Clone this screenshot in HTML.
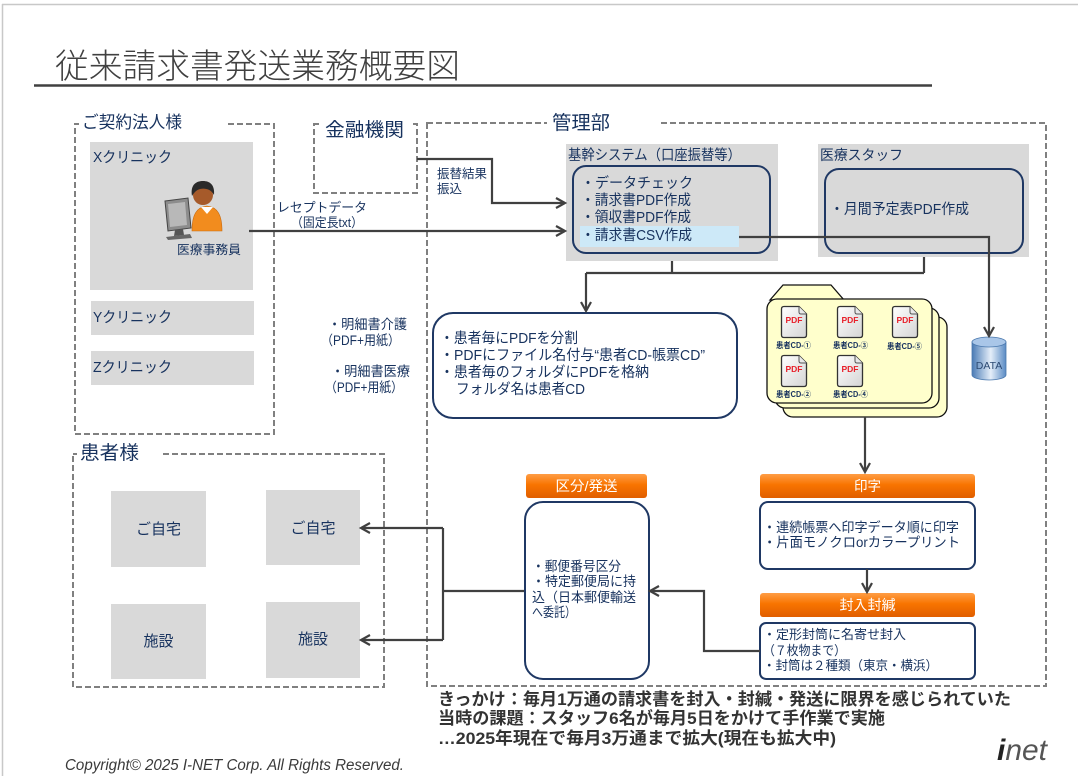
<!DOCTYPE html>
<html><head><meta charset="utf-8"><style>
html,body{margin:0;padding:0;background:#fff;}
svg{display:block;}
text{font-family:"Liberation Sans","Noto Sans CJK JP",sans-serif;}
</style></head><body>
<svg width="1078" height="776" viewBox="0 0 1078 776" xmlns="http://www.w3.org/2000/svg">
<defs>
 <linearGradient id="org" x1="0" y1="0" x2="0" y2="1">
  <stop offset="0" stop-color="#ff9d45"/><stop offset="0.45" stop-color="#f87400"/><stop offset="1" stop-color="#e05e00"/>
 </linearGradient>
 <linearGradient id="cyl" x1="0" y1="0" x2="1" y2="0">
  <stop offset="0" stop-color="#4a7bb5"/><stop offset="0.55" stop-color="#e4eef9"/><stop offset="1" stop-color="#5a8bc4"/>
 </linearGradient>
 <linearGradient id="doc" x1="0" y1="0" x2="1" y2="1">
  <stop offset="0" stop-color="#ffffff"/><stop offset="1" stop-color="#d4d4d4"/>
 </linearGradient>
</defs>

<!-- page border -->
<line x1="2" y1="4.5" x2="1078" y2="4.5" stroke="#c8c8c8" stroke-width="1.5"/>
<line x1="2.5" y1="4" x2="2.5" y2="776" stroke="#c8c8c8" stroke-width="1.5"/>

<!-- title -->
<text x="55" y="78" font-size="34" fill="#404040" font-weight="300" textLength="405" lengthAdjust="spacingAndGlyphs">従来請求書発送業務概要図</text>
<line x1="34" y1="85.5" x2="932" y2="85.5" stroke="#404040" stroke-width="2.5"/>

<!-- dashed group boxes -->
<g fill="none" stroke="#808080" stroke-width="2" stroke-dasharray="6 3">
 <rect x="75" y="124" width="199" height="310"/>
 <rect x="314" y="124" width="103" height="69"/>
 <rect x="427" y="123" width="619" height="563"/>
 <rect x="73" y="454" width="311" height="233"/>
</g>
<!-- label covers -->
<rect x="79" y="114" width="149" height="20" fill="#fff"/>
<rect x="319" y="114" width="91" height="22" fill="#fff"/>
<rect x="547" y="112" width="111" height="22" fill="#fff"/>
<rect x="77" y="442" width="86" height="22" fill="#fff"/>

<g fill="#17325e">
<text x="82" y="128" font-size="17" textLength="100" lengthAdjust="spacingAndGlyphs">ご契約法人様</text>
<text x="325" y="136" font-size="19" textLength="79" lengthAdjust="spacingAndGlyphs">金融機関</text>
<text x="552" y="129" font-size="19" textLength="58" lengthAdjust="spacingAndGlyphs">管理部</text>
<text x="80" y="459" font-size="19" textLength="59" lengthAdjust="spacingAndGlyphs">患者様</text>
</g>

<!-- clinics -->
<rect x="90" y="142" width="163" height="148" fill="#d9d9d9"/>
<rect x="91" y="301" width="163" height="34" fill="#d9d9d9"/>
<rect x="91" y="351" width="163" height="34" fill="#d9d9d9"/>

<!-- person icon -->
<g>
 <path d="M192,231 C192,214 197,207 207,206 C217,207 222,214 222,231 Z" fill="#f28c1e" stroke="#c86a10" stroke-width="0.6"/>
 <path d="M201,207 L207,214 L213,207 Z" fill="#ffffff"/>
 <circle cx="203" cy="195" r="10" fill="#a65a2a"/>
 <path d="M192,196 C190,184 197,181 203,181 C210,181 215,185 214,195 C211,189 205,188 200,189 C196,190 194,193 192,196 Z" fill="#2a2a2a"/>
 <polygon points="165,201 188,198 191,228 168,231" fill="#8c8c8c" stroke="#444" stroke-width="1"/>
 <polygon points="168,204 185,202 187,225 170,227" fill="#b8b8b8"/>
 <polygon points="175,230 183,229 184,235 174,236" fill="#555"/>
 <polygon points="166,237 190,234 192,238 168,240" fill="#666"/>
</g>

<g fill="#17325e">
<text x="93" y="162" font-size="15" textLength="79" lengthAdjust="spacingAndGlyphs">Xクリニック</text>
<text x="177" y="254" font-size="12.5" textLength="64" lengthAdjust="spacingAndGlyphs">医療事務員</text>
<text x="93" y="322" font-size="15" textLength="79" lengthAdjust="spacingAndGlyphs">Yクリニック</text>
<text x="93" y="372" font-size="15" textLength="79" lengthAdjust="spacingAndGlyphs">Zクリニック</text>
<text x="277" y="212" font-size="13" textLength="90" lengthAdjust="spacingAndGlyphs">レセプトデータ</text>
<text x="291" y="227" font-size="13" textLength="72" lengthAdjust="spacingAndGlyphs">（固定長txt）</text>
<text x="437" y="178" font-size="12.5" textLength="50" lengthAdjust="spacingAndGlyphs">振替結果</text>
<text x="437" y="193" font-size="12.5" textLength="25" lengthAdjust="spacingAndGlyphs">振込</text>
<text x="328" y="329" font-size="13.5" textLength="79" lengthAdjust="spacingAndGlyphs">・明細書介護</text>
<text x="321" y="345" font-size="13.5" textLength="79" lengthAdjust="spacingAndGlyphs">（PDF+用紙）</text>
<text x="331" y="376" font-size="13.5" textLength="79" lengthAdjust="spacingAndGlyphs">・明細書医療</text>
<text x="325" y="392" font-size="13.5" textLength="78" lengthAdjust="spacingAndGlyphs">（PDF+用紙）</text>
</g>

<!-- core system -->
<rect x="566" y="144" width="212" height="117" fill="#d9d9d9"/>
<rect x="818" y="144" width="211" height="113" fill="#d9d9d9"/>
<rect x="580" y="226" width="159" height="21" fill="#cde9f8"/>
<rect x="573" y="166" width="197" height="87" rx="13" fill="none" stroke="#1f3864" stroke-width="2"/>
<rect x="825" y="169" width="198" height="84" rx="14" fill="none" stroke="#1f3864" stroke-width="2"/>
<g fill="#17325e">
<text x="568" y="160" font-size="14.5" textLength="173" lengthAdjust="spacingAndGlyphs">基幹システム（口座振替等）</text>
<text x="820" y="160" font-size="14" textLength="83" lengthAdjust="spacingAndGlyphs">医療スタッフ</text>
<text x="581" y="188" font-size="14.5" textLength="112" lengthAdjust="spacingAndGlyphs">・データチェック</text>
<text x="581" y="205" font-size="14.5" textLength="110" lengthAdjust="spacingAndGlyphs">・請求書PDF作成</text>
<text x="581" y="222" font-size="14.5" textLength="110" lengthAdjust="spacingAndGlyphs">・領収書PDF作成</text>
<text x="581" y="240" font-size="14.5" textLength="111" lengthAdjust="spacingAndGlyphs">・請求書CSV作成</text>
<text x="830" y="214" font-size="14.5" textLength="139" lengthAdjust="spacingAndGlyphs">・月間予定表PDF作成</text>
</g>

<!-- split box -->
<rect x="433" y="313" width="304" height="105" rx="20" fill="#fff" stroke="#1f3864" stroke-width="2"/>
<g fill="#17325e" font-size="14.5">
<text x="440" y="343" textLength="138" lengthAdjust="spacingAndGlyphs">・患者毎にPDFを分割</text>
<text x="440" y="360" textLength="265" lengthAdjust="spacingAndGlyphs">・PDFにファイル名付与“患者CD-帳票CD”</text>
<text x="440" y="377" textLength="209" lengthAdjust="spacingAndGlyphs">・患者毎のフォルダにPDFを格納</text>
<text x="456" y="394" textLength="129" lengthAdjust="spacingAndGlyphs">フォルダ名は患者CD</text>
</g>

<!-- folder stack -->
<g fill="#ffffcc" stroke="#111" stroke-width="1.3">
 <rect x="783" y="317" width="164" height="100" rx="10"/>
 <rect x="775" y="308" width="164" height="100" rx="10"/>
 <polygon points="770,300 783,285 831,285 844,300"/>
 <rect x="767" y="299" width="165" height="104" rx="10"/>
</g>
<!-- pdf icons -->
<g>
 <g transform="translate(781,306)">
  <path d="M3,0.5 H18 L25.5,8 V29 Q25.5,31.5 23,31.5 H3 Q0.5,31.5 0.5,29 V3 Q0.5,0.5 3,0.5 Z" fill="url(#doc)" stroke="#333" stroke-width="1.3"/>
  <path d="M18,0.5 V6 Q18,8 20,8 H25.5" fill="#e8e8e8" stroke="#555" stroke-width="1"/>
  <text x="13" y="17" font-size="8.5" font-weight="bold" fill="#e8202a" text-anchor="middle">PDF</text>
 </g>
 <g transform="translate(837,306)">
  <path d="M3,0.5 H18 L25.5,8 V29 Q25.5,31.5 23,31.5 H3 Q0.5,31.5 0.5,29 V3 Q0.5,0.5 3,0.5 Z" fill="url(#doc)" stroke="#333" stroke-width="1.3"/>
  <path d="M18,0.5 V6 Q18,8 20,8 H25.5" fill="#e8e8e8" stroke="#555" stroke-width="1"/>
  <text x="13" y="17" font-size="8.5" font-weight="bold" fill="#e8202a" text-anchor="middle">PDF</text>
 </g>
 <g transform="translate(892,306)">
  <path d="M3,0.5 H18 L25.5,8 V29 Q25.5,31.5 23,31.5 H3 Q0.5,31.5 0.5,29 V3 Q0.5,0.5 3,0.5 Z" fill="url(#doc)" stroke="#333" stroke-width="1.3"/>
  <path d="M18,0.5 V6 Q18,8 20,8 H25.5" fill="#e8e8e8" stroke="#555" stroke-width="1"/>
  <text x="13" y="17" font-size="8.5" font-weight="bold" fill="#e8202a" text-anchor="middle">PDF</text>
 </g>
 <g transform="translate(781,355)">
  <path d="M3,0.5 H18 L25.5,8 V29 Q25.5,31.5 23,31.5 H3 Q0.5,31.5 0.5,29 V3 Q0.5,0.5 3,0.5 Z" fill="url(#doc)" stroke="#333" stroke-width="1.3"/>
  <path d="M18,0.5 V6 Q18,8 20,8 H25.5" fill="#e8e8e8" stroke="#555" stroke-width="1"/>
  <text x="13" y="17" font-size="8.5" font-weight="bold" fill="#e8202a" text-anchor="middle">PDF</text>
 </g>
 <g transform="translate(837,355)">
  <path d="M3,0.5 H18 L25.5,8 V29 Q25.5,31.5 23,31.5 H3 Q0.5,31.5 0.5,29 V3 Q0.5,0.5 3,0.5 Z" fill="url(#doc)" stroke="#333" stroke-width="1.3"/>
  <path d="M18,0.5 V6 Q18,8 20,8 H25.5" fill="#e8e8e8" stroke="#555" stroke-width="1"/>
  <text x="13" y="17" font-size="8.5" font-weight="bold" fill="#e8202a" text-anchor="middle">PDF</text>
 </g>
</g>
<g fill="#17325e" font-size="8" font-weight="bold">
<text x="776" y="348" textLength="35" lengthAdjust="spacingAndGlyphs">患者CD-①</text>
<text x="833" y="348" textLength="35" lengthAdjust="spacingAndGlyphs">患者CD-③</text>
<text x="887" y="349" textLength="35" lengthAdjust="spacingAndGlyphs">患者CD-⑤</text>
<text x="776" y="397" textLength="35" lengthAdjust="spacingAndGlyphs">患者CD-②</text>
<text x="833" y="397" textLength="35" lengthAdjust="spacingAndGlyphs">患者CD-④</text>
</g>

<!-- DATA cylinder -->
<path d="M972,342 V375 A17,5 0 0 0 1006,375 V342 Z" fill="url(#cyl)" stroke="#4a78ad" stroke-width="0.8"/>
<ellipse cx="989" cy="342" rx="17" ry="5" fill="#a9c6e8" stroke="#4a78ad" stroke-width="0.8"/>
<text x="989" y="369" font-size="10.5" fill="#2c4a73" text-anchor="middle">DATA</text>

<!-- orange headers -->
<rect x="526" y="474" width="121" height="24" rx="3" fill="url(#org)"/>
<rect x="760" y="474" width="215" height="24" rx="3" fill="url(#org)"/>
<rect x="760" y="593" width="215" height="24" rx="3" fill="url(#org)"/>
<g fill="#ffffff" font-size="14" text-anchor="middle">
<text x="586.5" y="491" textLength="62" lengthAdjust="spacingAndGlyphs">区分/発送</text>
<text x="867.5" y="491" textLength="27" lengthAdjust="spacingAndGlyphs">印字</text>
<text x="867.5" y="610" textLength="56" lengthAdjust="spacingAndGlyphs">封入封緘</text>
</g>

<!-- process boxes -->
<rect x="525" y="502" width="124" height="177" rx="18" fill="#fff" stroke="#1f3864" stroke-width="2"/>
<rect x="760" y="502" width="215" height="67" rx="8" fill="#fff" stroke="#1f3864" stroke-width="2"/>
<rect x="760" y="623" width="215" height="56" rx="6" fill="#fff" stroke="#1f3864" stroke-width="2"/>
<g fill="#17325e" font-size="13.5">
<text x="532" y="571" textLength="89" lengthAdjust="spacingAndGlyphs">・郵便番号区分</text>
<text x="532" y="586" textLength="104" lengthAdjust="spacingAndGlyphs">・特定郵便局に持</text>
<text x="532" y="602" textLength="104" lengthAdjust="spacingAndGlyphs">込（日本郵便輸送</text>
<text x="532" y="617" textLength="44" lengthAdjust="spacingAndGlyphs">へ委託）</text>
<text x="763" y="532" textLength="196" lengthAdjust="spacingAndGlyphs">・連続帳票へ印字データ順に印字</text>
<text x="763" y="547" textLength="197" lengthAdjust="spacingAndGlyphs">・片面モノクロorカラープリント</text>
</g>
<g fill="#17325e" font-size="13">
<text x="763" y="639" textLength="143" lengthAdjust="spacingAndGlyphs">・定形封筒に名寄せ封入</text>
<text x="763" y="655" textLength="83" lengthAdjust="spacingAndGlyphs">（７枚物まで）</text>
<text x="763" y="670" textLength="175" lengthAdjust="spacingAndGlyphs">・封筒は２種類（東京・横浜）</text>
</g>

<!-- patients -->
<rect x="111" y="491" width="95" height="76" fill="#d9d9d9"/>
<rect x="266" y="490" width="94" height="75" fill="#d9d9d9"/>
<rect x="111" y="604" width="95" height="75" fill="#d9d9d9"/>
<rect x="266" y="602" width="94" height="76" fill="#d9d9d9"/>
<g fill="#17325e" font-size="15" text-anchor="middle">
<text x="158.5" y="534">ご自宅</text>
<text x="313" y="533">ご自宅</text>
<text x="158.5" y="646">施設</text>
<text x="313" y="644">施設</text>
</g>

<!-- connectors -->
<g fill="none" stroke="#404040" stroke-width="2.2">
 <polyline points="249,231 565,231"/>
 <polyline points="556,226 565,231 556,236"/>
 <polyline points="417,159 492,159 492,203 565,203"/>
 <polyline points="556,198 565,203 556,208"/>
 <polyline points="672,261 672,273"/>
 <polyline points="924,257 924,273"/>
 <polyline points="586,273 924,273"/>
 <polyline points="586,273 586,311"/>
 <polyline points="581,302 586,311 591,302"/>
 <polyline points="739,237 989,237 989,336"/>
 <polyline points="984,327 989,336 994,327"/>
 <polyline points="865,417 865,472"/>
 <polyline points="860,463 865,472 870,463"/>
 <polyline points="867,569 867,592"/>
 <polyline points="862,583 867,592 872,583"/>
 <polyline points="760,651 704,651 704,591 650,591"/>
 <polyline points="659,586 650,591 659,596"/>
 <polyline points="524,591 443,591"/>
 <polyline points="443,528 443,640"/>
 <polyline points="443,528 361,528"/>
 <polyline points="370,523 361,528 370,533"/>
 <polyline points="443,640 361,640"/>
 <polyline points="370,635 361,640 370,645"/>
</g>

<!-- bottom notes -->
<g fill="#333333" font-size="17" font-weight="bold">
<text x="438" y="705" textLength="573" lengthAdjust="spacingAndGlyphs">きっかけ：毎月1万通の請求書を封入・封緘・発送に限界を感じられていた</text>
<text x="438" y="724" textLength="447" lengthAdjust="spacingAndGlyphs">当時の課題：スタッフ6名が毎月5日をかけて手作業で実施</text>
<text x="438" y="744" textLength="398" lengthAdjust="spacingAndGlyphs">…2025年現在で毎月3万通まで拡大(現在も拡大中)</text>
</g>

<text x="65" y="770" font-size="15.5" font-style="italic" fill="#3a3a3a" textLength="339" lengthAdjust="spacingAndGlyphs">Copyright© 2025 I-NET Corp. All Rights Reserved.</text>

<text x="997" y="760" font-size="30" font-style="italic" fill="#555" textLength="50" lengthAdjust="spacingAndGlyphs"><tspan font-weight="bold" fill="#222">i</tspan><tspan>net</tspan></text>
</svg>
</body></html>
